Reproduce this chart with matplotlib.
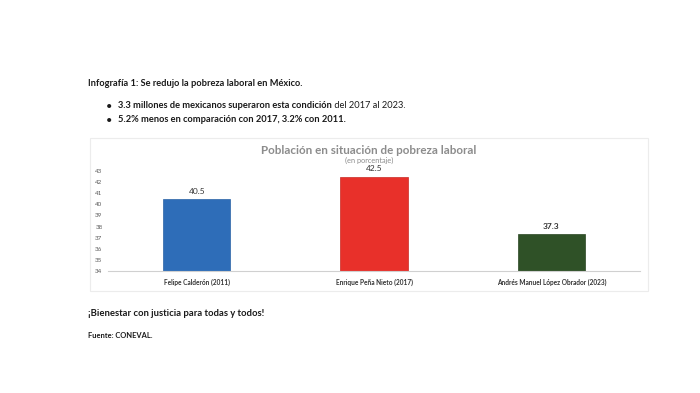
import matplotlib.pyplot as plt
from matplotlib.patches import Rectangle

plt.rcParams['font.family'] = ['Lato', 'DejaVu Sans']

categories = ["Felipe Calderón (2011)", "Enrique Peña Nieto (2017)", "Andrés Manuel López Obrador (2023)"]
values = [40.5, 42.5, 37.3]
colors = ["#2E6DB8", "#E8302A", "#2F5127"]
yticks = [34, 35, 36, 37, 38, 39, 40, 41, 42, 43]

W, H = 700, 393
fig = plt.figure(figsize=(7, 3.93), dpi=100)
fig.patch.set_facecolor('white')

def fx(px):
    return px / W

def fy(py):
    return 1 - py / H

# Chart frame
frame = Rectangle((fx(90), fy(291)), fx(648) - fx(90), fy(138) - fy(291),
                  transform=fig.transFigure, facecolor='none',
                  edgecolor='#ececec', linewidth=0.8, zorder=-5)
fig.add_artist(frame)

ax = fig.add_axes([fx(108), fy(271), fx(640) - fx(108), fy(171) - fy(271)])
ax.set_zorder(2)
x = list(range(len(categories)))
ax.bar(x, [v - 34 for v in values], bottom=34, width=0.38, color=colors,
       edgecolor=['#2a62a5', '#c82a25', '#2a4622'], linewidth=0.5, zorder=2)
ax.set_xlim(-0.5, 2.5)
ax.set_ylim(34, 43)
ax.set_yticks(yticks)
ax.set_yticklabels([str(t) for t in yticks], fontsize=4.5, color='#595959')
ax.set_xticks(x)
ax.set_xticklabels(categories, fontsize=4.7, fontweight='bold', color='#333333')
ax.tick_params(axis='x', length=0, pad=5.5)
ax.tick_params(axis='y', length=0, pad=4)
for s in ['top', 'right', 'left']:
    ax.spines[s].set_visible(False)
ax.spines['bottom'].set_color('#d0d0d0')
ax.spines['bottom'].set_linewidth(0.8)
ax.set_facecolor('none')

weights = ['normal', 'normal', 'bold']
for xi, v, w in zip(x, values, weights):
    ax.annotate(f"{v}", (xi, v), xytext=(0, 3), textcoords='offset points',
                ha='center', va='bottom', fontsize=6, color='#333333',
                fontweight=w, annotation_clip=False)

fig.text(fx(369), fy(150), "Población en situación de pobreza laboral", ha='center', va='center',
         fontsize=8.4, fontweight='bold', color='#8c8c8c')
fig.text(fx(369), fy(160), "(en porcentaje)", ha='center', va='center',
         fontsize=5.3, color='#8c8c8c')

# Header text
fs = 6.7
fig.text(fx(88), fy(83), "Infografía 1: Se redujo la pobreza laboral en México.",
         ha='left', va='center', fontsize=fs, fontweight='bold', color='#1a1a1a')
fig.text(fx(106), fy(106), "•", ha='left', va='center', fontsize=8, color='#1a1a1a')
fig.text(fx(106), fy(120), "•", ha='left', va='center', fontsize=8, color='#1a1a1a')
t1 = fig.text(fx(118), fy(108.5), "3.3 millones de mexicanos superaron esta condición",
              ha='left', va='baseline', fontsize=fs, fontweight='bold', color='#1a1a1a')
fig.canvas.draw()
bb = t1.get_window_extent()
x1 = bb.x1 / fig.bbox.width
fig.text(x1, fy(108.5), " del 2017 al 2023.", ha='left', va='baseline',
         fontsize=fs, color='#1a1a1a')
fig.text(fx(118), fy(122.5), "5.2% menos en comparación con 2017, 3.2% con 2011.",
         ha='left', va='baseline', fontsize=fs, fontweight='bold', color='#1a1a1a')

# Footer
fig.text(fx(88), fy(313), "¡Bienestar con justicia para todas y todos!", ha='left', va='center',
         fontsize=6.8, fontweight='bold', color='#1a1a1a')
fig.text(fx(88), fy(336), "Fuente: CONEVAL.", ha='left', va='center',
         fontsize=5.4, fontweight='bold', color='#1a1a1a')

fig.savefig('out.png', dpi=100, facecolor='white')
